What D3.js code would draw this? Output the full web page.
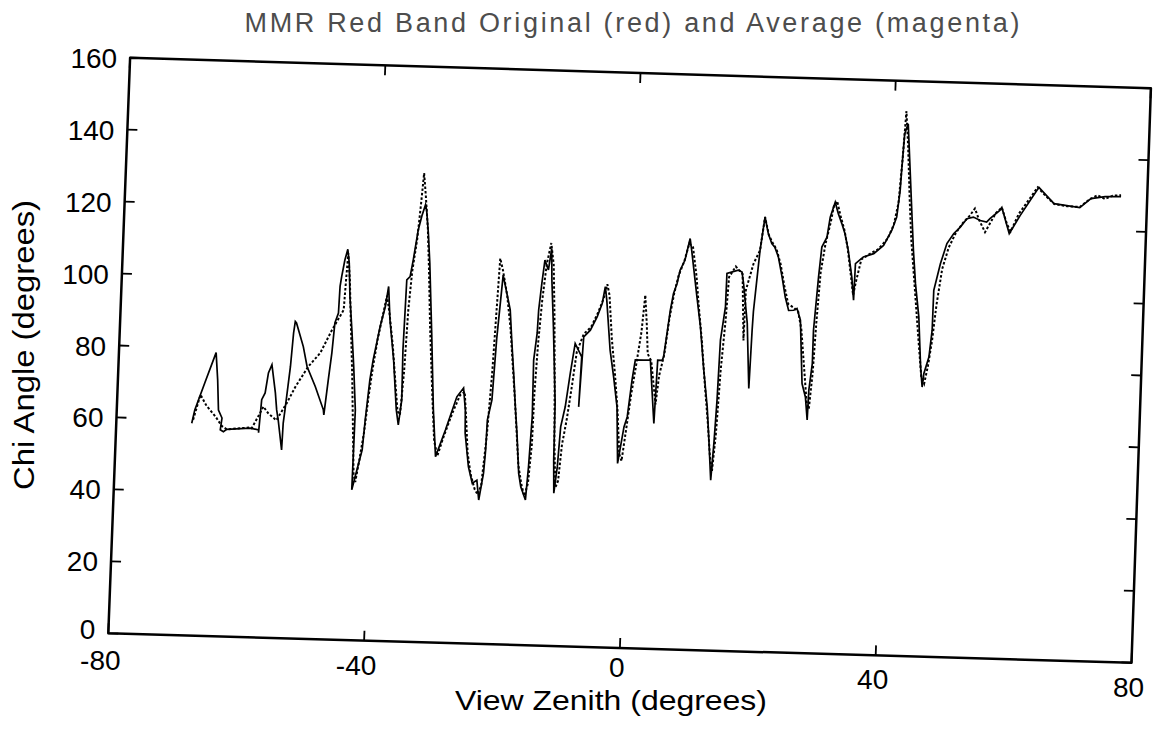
<!DOCTYPE html>
<html>
<head>
<meta charset="utf-8">
<script src="https://cdn.jsdelivr.net/npm/d3@7"></script>
<style>
  html, body { margin: 0; padding: 0; background: #fff; }
  svg text { font-family: "Liberation Sans", Arial, sans-serif; fill: #000; }
</style>
</head>
<body>
<svg id="chart" width="1165" height="730"></svg>
<script>
// Chart text
const chartTitle = 'MMR Red Band Original (red) and Average (magenta)';
const xLabel = 'View Zenith (degrees)';
const yLabel = 'Chi Angle (degrees)';
// Axis ticks
const xTicks = [-80, -40, 0, 40, 80];
const yTicks = [0, 20, 40, 60, 80, 100, 120, 140, 160];
// Original (solid) series: [view zenith, chi angle]
const originalSeries = [
  [-68.2,59],[-67.8,62.7],[-66.4,70.3],[-64.8,78.8],[-64.4,71.3],[-64.1,62.9],[-63.5,60.7],[-63.7,57.4],[-63.2,56.9],[-62.7,57.6],
  [-59.0,58.1],[-57.7,57.7],[-57.7,56.9],[-57.4,66.1],[-56.9,68],[-56.5,73.6],[-56.0,75.9],[-55.3,68.1],[-55.0,63.4],[-54.7,60.6],
  [-54.0,52.3],[-53.9,59.8],[-53.7,63.5],[-53.1,75.5],[-52.8,84.9],[-52.6,88.1],[-52.4,87.7],[-51.2,81.2],[-50.5,75.7],[-49.1,70.2],
  [-47.7,63.8],[-47.6,62.4],[-47.1,72.2],[-46.7,79.7],[-46.4,88],[-45.9,90.8],[-45.8,98.2],[-45.6,101],[-45.2,105.6],[-44.8,108.6],
  [-44.5,104.8],[-44.2,95.5],[-43.7,86.2],[-43.2,76],[-42.7,64],[-42.75,52.9],[-42.8,41.8],[-41.4,53],[-41.1,61.3],[-40.6,72.5],
  [-40.2,78.1],[-39.3,87.4],[-38.6,93],[-38.2,98.6],[-37.8,89.3],[-37.0,78.2],[-36.3,64.4],[-35.9,60.2],[-35.5,67.2],[-35.6,81.1],
  [-35.4,100.6],[-34.9,101.5],[-34.5,106.2],[-33.9,114.5],[-33.4,118.5],[-32.9,121.6],[-32.7,120.2],[-32.3,113.8],[-31.9,105.5],[-31.2,86],
  [-30.5,64.7],[-29.9,51.7],[-28.5,59.2],[-26.9,68.5],[-25.9,71],[-25.5,64.9],[-25.4,58.5],[-24.7,49.2],[-24.0,44.6],[-23.3,45.5],
  [-22.9,40],[-22.3,47.5],[-22.1,53.9],[-22.0,62.3],[-21.4,67.9],[-21.0,85],[-20.35,102.7],[-19.05,93.1],[-18.6,83.9],[-18.1,74.5],
  [-17.7,66.2],[-17.3,58.9],[-16.8,47.7],[-16.4,44],[-15.6,40.4],[-15.3,49.7],[-15.0,63.6],[-15.1,79.3],[-14.7,86.9],[-14.6,93.3],
  [-14.25,100.8],[-13.9,107.2],[-13.3,104.5],[-12.9,110.5],[-12.7,101.7],[-12.2,88.8],[-11.5,67.6],[-11.4,51.7],[-11.2,42.5],[-10.8,49.9],
  [-10.5,61],[-9.9,66.6],[-9.3,75.9],[-8.7,84.3],[-7.6,80.6],[-7.8,66.7],[-7.4,86.2],[-6.4,88.1],[-5.4,91.9],[-4.7,95.6],
  [-4.3,100.3],[-4.0,96.6],[-3.2,82.7],[-2.5,75.3],[-1.8,67],[-1.4,51.3],[-0.6,61.5],[-0.15,64.3],[0.4,74.6],[0.8,80.2],
  [2.1,80.2],[3.15,80.3],[4.05,62.7],[4.3,80.3],[5.0,80.3],[5.2,81.3],[5.6,87.8],[6.0,94.3],[6.4,99],[6.9,101.8],
  [7.3,105.5],[8.0,108.3],[8.7,114.4],[9.0,111.2],[9.7,102.8],[10.0,99.2],[10.8,89.9],[11.5,78.8],[12.3,67.7],[12.75,58.5],
  [13.25,47.4],[13.55,57.7],[13.8,69.7],[14.0,86.4],[14.6,95.7],[14.65,105],[16.4,106],[17.0,105.5],[17.3,102.4],[18.1,91.3],
  [18.7,73.2],[18.9,89.4],[19.0,94.7],[19.7,111.7],[20.3,121],[20.9,116.4],[21.5,113.7],[22.0,112.7],[22.6,110],[23.3,104.4],
  [23.9,98.9],[24.5,95.2],[25.3,95.3],[25.8,95.8],[26.4,92.6],[27.0,75],[27.6,71.3],[28.0,64.9],[28.1,73.2],[28.5,80.7],
  [28.5,89.9],[29.0,104.8],[29.35,113.1],[30.1,115.9],[30.5,121.5],[31.2,125.7],[31.75,122.5],[32.35,119.8],[32.9,117],[33.5,112.4],
  [34.2,105],[34.6,98.6],[34.7,108.8],[35.9,110.7],[37.5,111.7],[39.0,114.1],[40.2,118.3],[40.9,122.1],[41.3,129.5],[41.4,134.2],
  [41.7,145.3],[42.2,148.1],[43.3,122.2],[43.7,112.9],[44.2,103.7],[44.9,94.5],[45.45,80.6],[45.8,75],[46.0,78.8],[46.7,83.4],
  [47.06,90.9],[47.1,102],[48.0,109.5],[48.9,115.1],[49.9,117.9],[50.9,119.8],[51.9,122.2],[52.9,122.7],[54.0,121.8],[55.0,121.4],
  [55.5,122.4],[57.0,124.8],[57.3,125.6],[58.6,118.4],[60.2,123.5],[63.0,131.5],[65.45,127.1],[69.5,126.2],[71.2,128.8],[73.4,129.5],
  [75.9,129.6]
];
// Running average (dotted) series: [view zenith, chi angle]
const averageSeries = [
  [-68.0,60],[-67.0,67],[-66.0,64],[-64.5,61],[-63.5,58.5],[-62.7,57.6],[-59.0,58.3],[-58.8,58.1],[-57.6,62.3],[-57.1,64.2],
  [-56.3,62.4],[-55.0,60.5],[-53.45,65.4],[-52.2,70],[-50.3,75.7],[-48.5,79.6],[-46.8,86.1],[-45.1,91.7],[-44.9,100],[-44.7,107.5],
  [-44.3,100],[-43.9,88],[-43.4,74],[-43.0,60],[-42.6,46],[-42.3,44],[-41.8,50],[-41.2,58],[-40.7,68],[-40.2,76],
  [-39.6,84],[-38.9,91],[-38.4,96],[-37.9,91],[-37.2,82],[-36.6,72],[-36.1,64],[-35.7,63],[-35.3,75],[-35.0,92],
  [-34.6,103],[-34.0,112],[-33.6,122],[-33.3,130.4],[-32.9,124],[-32.4,115],[-32.0,104],[-31.5,88],[-30.8,70],[-30.2,56],
  [-29.6,52],[-28.8,57],[-27.5,64],[-26.4,69],[-25.7,70],[-25.3,62],[-24.9,53],[-24.3,47],[-23.6,43],[-23.1,41.5],
  [-22.6,44],[-22.0,58],[-21.5,76],[-21.2,92],[-20.9,107.3],[-20.4,104],[-19.6,97],[-18.9,88],[-18.3,77],[-17.8,68],
  [-17.4,60],[-16.9,50],[-16.3,44.5],[-15.8,41.5],[-15.3,45],[-14.9,56],[-14.8,70],[-14.5,84],[-14.1,96],[-13.6,106],
  [-13.0,112],[-12.5,106],[-12.1,92],[-11.7,74],[-11.4,57],[-11.0,44],[-10.6,46],[-10.2,56],[-9.6,63],[-9.0,72],
  [-8.4,82],[-7.4,87],[-6.3,89],[-5.3,93],[-4.5,97],[-4.0,101],[-3.6,98],[-3.0,86],[-2.3,76],[-1.7,66],
  [-1.2,54],[-0.8,52],[-0.3,60],[0.3,70],[0.9,78],[1.6,88],[2.0,98.3],[2.4,90],[2.7,82],[3.3,80],
  [4.2,68],[4.6,76],[5.3,82],[5.9,92],[6.5,99],[7.1,104],[7.9,108],[8.6,113],[9.2,112],[9.9,104],
  [10.4,96],[11.1,86],[11.8,74],[12.5,63],[13.0,54],[13.4,50],[13.8,60],[14.2,78],[14.7,92],[15.0,104],
  [16.0,107],[17.1,105],[17.6,86.5],[17.7,100.5],[18.75,107.9],[19.7,111.7],[20.3,121],[21.0,116],[21.6,114],[22.3,112],
  [23.0,108],[23.7,102],[24.4,97],[25.3,96],[26.0,95],[26.6,90],[27.2,80],[27.8,70],[28.2,68],[28.6,78],
  [28.9,92],[29.3,106],[29.9,114],[30.6,120],[31.0,124.5],[31.5,126],[32.1,122],[32.8,118],[33.4,113],[34.0,106],
  [34.5,100],[34.9,104],[35.6,110],[36.8,111.5],[38.2,113],[39.6,116],[40.5,120],[41.1,126],[41.5,138],[41.85,151.6],
  [42.3,142],[42.8,128],[43.3,116],[43.9,106],[44.5,96],[45.1,86],[45.6,78],[46.1,76],[46.6,81],[47.1,88],
  [47.6,98],[48.3,108],[49.2,114],[50.2,118],[51.3,121],[52.3,123],[53.1,125.1],[53.8,122],[54.8,118.6],[55.5,121],
  [56.4,124],[57.3,125.6],[58.2,121],[58.8,119],[60.0,124],[61.5,128],[62.8,131.5],[64.2,129],[65.5,127],[67.5,126.5],
  [69.5,126.4],[71.0,128.6],[72.2,129.8],[73.4,128.8],[74.6,129.8],[75.9,130]
];

// Page corners of the (scanned, slightly skewed) plot frame
const frameTL = [130.1, 57.7], frameTR = [1150.9, 88.3];
const frameBL = [108.3, 633.3], frameBR = [1131.5, 662.7];

const svg = d3.select('#chart');

// data -> unit square, then onto the skewed frame
const x = d3.scaleLinear().domain([-80, 80]).range([0, 1]);
const y = d3.scaleLinear().domain([0, 160]).range([0, 1]);
const lerp = (a, b, t) => [a[0] + (b[0] - a[0]) * t, a[1] + (b[1] - a[1]) * t];
function project(xv, yv) {
    const u = x(xv), v = y(yv);
    return lerp(lerp(frameBL, frameBR, u), lerp(frameTL, frameTR, u), v);
}

// title
svg.append('text')
    .attr('x', 632)
    .attr('y', 32)
    .attr('text-anchor', 'middle')
    .attr('textLength', 775)
    .attr('lengthAdjust', 'spacing')
    .style('font-size', '27px')
    .style('fill', '#4d4d4d')
    .text(chartTitle);

// frame
svg.append('path')
    .attr('d', d3.line()([frameTL, frameTR, frameBR, frameBL]) + 'Z')
    .attr('fill', 'none')
    .attr('stroke', '#000')
    .attr('stroke-width', 2.5)
    .attr('stroke-linejoin', 'round');

// inward ticks, ~10px long
const tickX = x.invert(10 / 1022) - x.invert(0); // in degrees
const tickY = y.invert(10 / 576) - y.invert(0);  // in chi units
const ticks = svg.append('g').attr('stroke', '#000').attr('stroke-width', 1.8);

yTicks.forEach(t => {
    [[-80, -80 + tickX], [80, 80 - tickX]].forEach(([a, b]) => {
        const p0 = project(a, t), p1 = project(b, t);
        ticks.append('line').attr('x1', p0[0]).attr('y1', p0[1]).attr('x2', p1[0]).attr('y2', p1[1]);
    });
});
xTicks.forEach(t => {
    [[0, tickY], [160, 160 - tickY]].forEach(([a, b]) => {
        const p0 = project(t, a), p1 = project(t, b);
        ticks.append('line').attr('x1', p0[0]).attr('y1', p0[1]).attr('x2', p1[0]).attr('y2', p1[1]);
    });
});

// tick labels (the y=0 and x=-80 labels share the corner, so nudge them apart)
svg.append('g').selectAll('text')
    .data(yTicks)
    .join('text')
    .attr('x', d => project(-80, d)[0] - 13)
    .attr('y', d => project(-80, d)[1] + (d === 0 ? 6 : 10))
    .attr('text-anchor', 'end')
    .style('font-size', '28px')
    .text(d => d);

svg.append('g').selectAll('text')
    .data(xTicks)
    .join('text')
    .attr('x', d => project(d, 0)[0] + (d < 0 ? -8 : -3))
    .attr('y', d => project(d, 0)[1] + (d === 0 ? 29 : d === -80 ? 37 : 34))
    .attr('text-anchor', 'middle')
    .style('font-size', '28px')
    .text(d => d);

// series
const line = d3.line()
    .x(d => project(d[0], d[1])[0])
    .y(d => project(d[0], d[1])[1]);

svg.append('path')
    .datum(averageSeries)
    .attr('d', line)
    .attr('fill', 'none')
    .attr('stroke', '#000')
    .attr('stroke-width', 2)
    .attr('stroke-dasharray', '2.5,2');

svg.append('path')
    .datum(originalSeries)
    .attr('d', line)
    .attr('fill', 'none')
    .attr('stroke', '#000')
    .attr('stroke-width', 1.7);

// axis titles
svg.append('text')
    .attr('x', 611)
    .attr('y', 710)
    .attr('text-anchor', 'middle')
    .attr('textLength', 312)
    .attr('lengthAdjust', 'spacingAndGlyphs')
    .style('font-size', '28px')
    .text(xLabel);

svg.append('text')
    .attr('transform', 'translate(34,345) rotate(-90)')
    .attr('text-anchor', 'middle')
    .attr('textLength', 290)
    .attr('lengthAdjust', 'spacingAndGlyphs')
    .style('font-size', '29px')
    .text(yLabel);
</script>
</body>
</html>
